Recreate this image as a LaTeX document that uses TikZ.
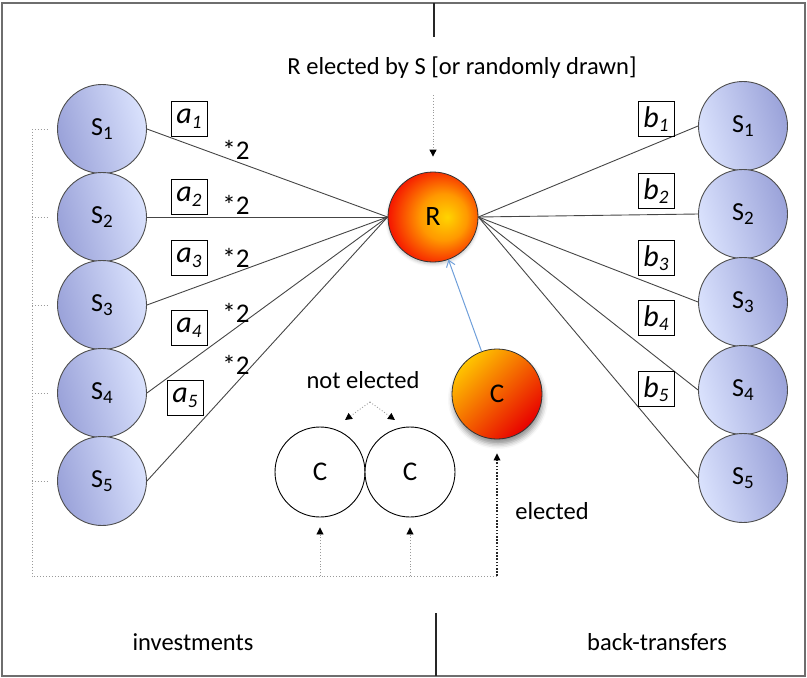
\documentclass[tikz,border=0pt]{standalone}
\usepackage{fontspec}
\setmainfont{Carlito}
\usetikzlibrary{arrows.meta,shadows.blur,calc}

\definecolor{sdark}{HTML}{9AA2D9}
\definecolor{slight}{HTML}{DAE2FD}
\definecolor{edge}{HTML}{4E4E4E}
\definecolor{wire}{HTML}{454545}
\definecolor{dots}{HTML}{9A9A9A}
\definecolor{framec}{HTML}{6E6E6E}
\definecolor{link}{HTML}{6F9FDA}
\definecolor{ryel}{HTML}{FFD400}
\definecolor{rorange}{HTML}{FF9800}
\definecolor{rred}{HTML}{F51000}
\definecolor{rdark}{HTML}{7A0000}
\definecolor{cyel}{HTML}{FFC400}
\definecolor{cred}{HTML}{E80000}

% red-hot ball: yellow core, red body, dark rim
\pgfdeclareradialshading{rball}{\pgfpoint{8bp}{0bp}}{%
  color(0bp)=(ryel); color(13bp)=(rorange); color(29bp)=(rred);
  color(44bp)=(rdark); color(50bp)=(rdark)}

\newcommand\mysub[1]{\raisebox{-0.32ex}{\fontsize{19}{19}\selectfont #1}}

\begin{document}
\begin{tikzpicture}[x=1pt,y=-1pt,
  every node/.style={font=\fontsize{24.5}{28}\selectfont},
  sball/.style={circle, draw=edge, line width=0.9pt, minimum size=89pt,
    inner sep=0pt, font=\fontsize{26}{30}\selectfont},
  sleft/.style={sball, left color=sdark, right color=slight, shading angle=105},
  sright/.style={sball, left color=slight, right color=sdark, shading angle=105},
  cwhite/.style={circle, draw=black, line width=0.9pt, fill=white,
    minimum size=90pt, inner sep=0pt, font=\fontsize{27}{30}\selectfont},
  coeff/.style={draw=black, line width=0.8pt, minimum width=36pt,
    minimum height=35pt, inner sep=0pt, font=\fontsize{30}{30}\selectfont\itshape},
  times/.style={font=\fontsize{27}{30}\selectfont},
  wire/.style={draw=wire, line width=0.9pt},
  dotline/.style={draw=dots, line width=0.9pt, dotted},
  dotarrow/.style={dotline, -{Triangle[length=7pt,width=7pt,color=black]}},
  elect/.style={draw=black!85, line width=1.7pt, dash pattern=on 1.6pt off 1.6pt,
    -{Triangle[length=7pt,width=7pt,line width=0pt,color=black]}},
  divider/.style={draw=black!85, line width=1.2pt}
]
\useasboundingbox (0,0) rectangle (807,678);
\draw[draw=framec, line width=1.6pt] (2,3) rectangle (805,676);

% section dividers
\draw[divider] (434,3) -- (434,37);
\draw[divider] (436,613) -- (436,676);

% investors (left) and receivers of back-transfers (right)
\foreach \i in {1,...,5} {
  \node[sleft]  (L\i) at (102,{129+88*(\i-1)}) {S\mysub{\i}};
  \node[sright] (Q\i) at (743,{126+88*(\i-1)}) {S\mysub{\i}};
}

% the recipient
\node[circle, draw=black!80, line width=0.8pt, minimum size=90pt, inner sep=0pt,
  shading=rball, blur shadow={shadow xshift=0pt, shadow yshift=-2pt,
  shadow blur radius=3pt, shadow opacity=25},
  font=\fontsize{28}{30}\selectfont] (R) at (433,217) {R};

% the elected candidate
\node[circle, draw=black!80, line width=0.8pt, minimum size=90pt, inner sep=0pt,
  left color=cyel, right color=cred, shading angle=45,
  blur shadow={shadow xshift=1pt, shadow yshift=-5pt, shadow blur radius=5pt,
  shadow opacity=45},
  font=\fontsize{27}{30}\selectfont] (CE) at (497,394) {C};

% candidates not elected
\node[cwhite] (C1) at (320,472) {C};
\node[cwhite] (C2) at (410,472) {C};

% investment links and back-transfer links
\foreach \i in {1,...,5} {
  \draw[wire] (L\i.east) -- (R.west);
  \draw[wire] (R.east) -- (Q\i.west);
}

% coefficients
\node[coeff] (a1) at (189,119) {a\mysub{1}};
\node[coeff] (a2) at (189,197) {a\mysub{2}};
\node[coeff] (a3) at (189,258) {a\mysub{3}};
\node[coeff] (a4) at (189,328) {a\mysub{4}};
\node[coeff] (a5) at (185,398) {a\mysub{5}};
\node[coeff] (b1) at (656,119) {b\mysub{1}};
\node[coeff] (b2) at (656,191) {b\mysub{2}};
\node[coeff] (b3) at (656,258) {b\mysub{3}};
\node[coeff] (b4) at (656,318) {b\mysub{4}};
\node[coeff] (b5) at (656,389) {b\mysub{5}};

\node[times] (m1) at (236,150) {*2};
\node[times] (m2) at (236,205) {*2};
\node[times] (m3) at (236,258) {*2};
\node[times] (m4) at (236,313) {*2};
\node[times] (m5) at (236,365) {*2};

% texts
\node (sel) at (462,68) {R elected by S [or randomly drawn]};
\node (ne)  at (363,380) {not elected};
\node (el)  at (552,511) {elected};
\node (inv) at (193,642) {investments};
\node (bt)  at (657,642) {back-transfers};

% selection of R
\coordinate (selS) at (433,95);
\draw[dotarrow, shorten >=15pt] (selS) -- (R.north);

% election of C
\draw[draw=link, line width=1pt, -{Straight Barb[length=6pt,width=9pt]}] (CE) -- (R);

% "not elected" pointers
\coordinate (neA) at (370,402);
\coordinate (neL) at (345,420);
\coordinate (neR) at (395,420);
\draw[dotarrow] (neA) -- (neL);
\draw[dotarrow] (neA) -- (neR);

% bracket joining the investors to the candidates
\coordinate (kTop) at (32,129);
\coordinate (kBot) at (32,576);
\draw[dotline] (kTop) -- (kBot) -- (kBot -| CE.south);
\foreach \i in {1,...,5} {
  \coordinate (k\i) at ($(L\i.west)+(-10,0)$);
  \draw[dotline] (k\i -| kTop) -- (k\i);
}
\draw[dotarrow, shorten >=10pt] (kBot -| C1.south) -- (C1.south);
\draw[dotarrow, shorten >=10pt] (kBot -| C2.south) -- (C2.south);
\draw[elect, shorten >=14pt] (kBot -| CE.south) -- (CE.south);
\end{tikzpicture}
\end{document}
